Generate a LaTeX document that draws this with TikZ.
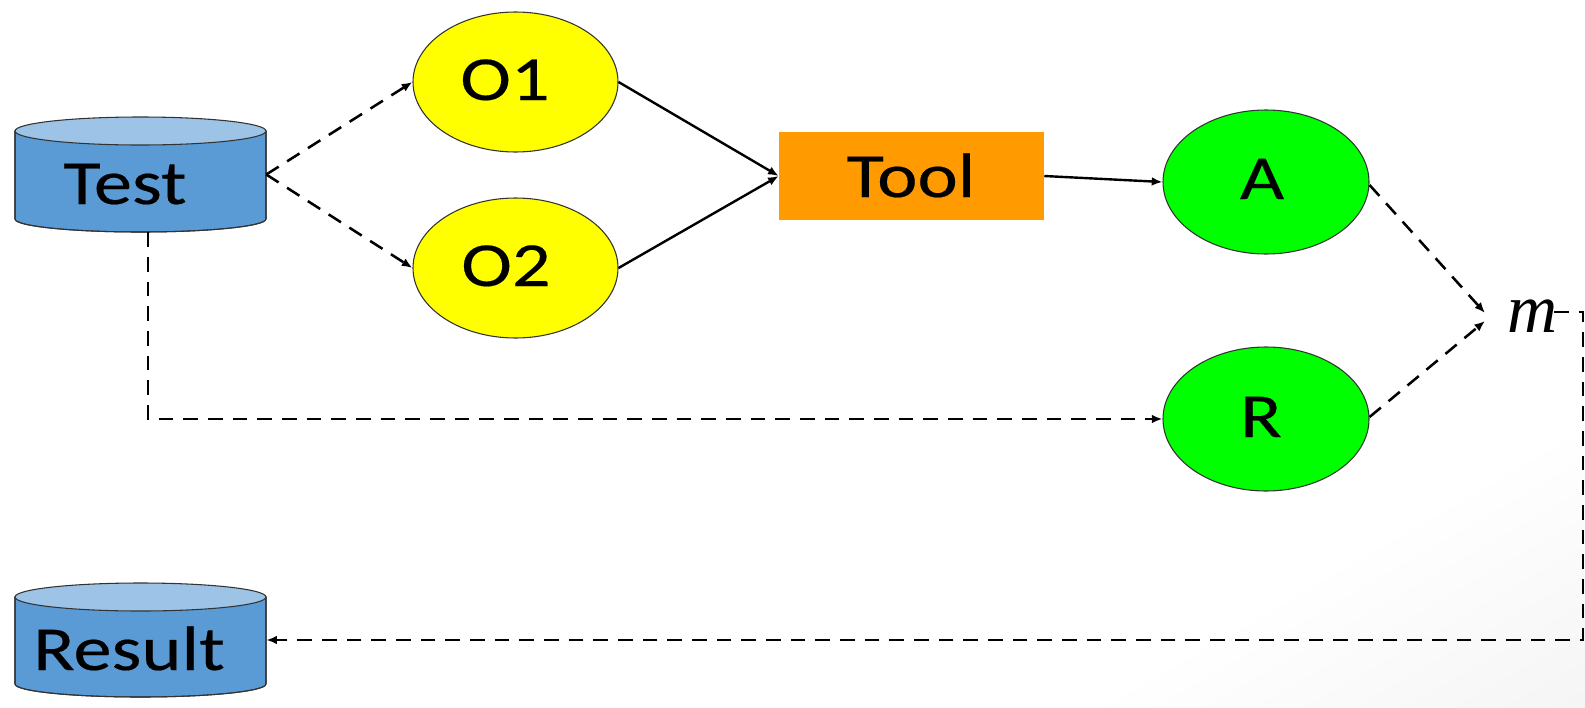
\documentclass[tikz,border=0pt]{standalone}
\usepackage{fontspec}
\setmainfont[FakeStretch=1.22,FakeBold=0.3]{Carlito}
\newfontfamily\mfont{Liberation Serif}
\usetikzlibrary{arrows.meta,calc,shapes.geometric}
\definecolor{cylbody}{HTML}{5B9BD5}
\definecolor{cyltop}{HTML}{9DC3E6}
\definecolor{toolc}{HTML}{FF9A00}
\definecolor{ylw}{HTML}{FFFF00}
\definecolor{grn}{HTML}{00FF00}
\pgfdeclarehorizontalshading{bgsh}{100bp}{color(0bp)=(white); color(72bp)=(white); color(100bp)=(black!9)}
\tikzset{
  lbl/.style={font=\fontsize{47}{50}\selectfont, inner sep=0pt, anchor=base},
  oval/.style={ellipse, draw=black!80, line width=0.8pt, inner sep=0pt},
  yoval/.style={oval, fill=ylw, minimum width=153.75pt, minimum height=105pt},
  goval/.style={oval, fill=grn, minimum width=154.5pt, minimum height=108pt},
  toolbox/.style={rectangle, fill=toolc, minimum width=198.75pt, minimum height=66pt, inner sep=0pt},
  cylbox/.style={rectangle, minimum width=188.25pt, minimum height=86.25pt, inner sep=0pt},
  cylside/.style={fill=cylbody, draw=black!80, line width=0.8pt},
  cyltopst/.style={fill=cyltop, draw=black!80, line width=0.8pt},
  solidarrow/.style={line width=1.8pt, -{Latex[length=8pt,width=6.5pt]}},
  dasharrow/.style={line width=1.9pt, dash pattern=on 11pt off 7.5pt, -{Latex[length=8pt,width=6.5pt]}},
  mstyle/.style={inner sep=0pt, anchor=base, font=\fontsize{52}{52}\selectfont\mfont\itshape}
}
\begin{document}
\begin{tikzpicture}[x=0.75pt,y=-0.75pt]
\useasboundingbox (0,0) rectangle (1585,707);
\shade[shading=bgsh, shading angle=-60] (0,0) rectangle (1585,707);

% cylinders
\fill[cylside] (15,131) -- (15,219) arc[start angle=180, end angle=360, x radius=94.125pt, y radius=9.75pt] -- (266,131) -- cycle;
\draw[cylside, fill=none] (15,131) -- (15,219) arc[start angle=180, end angle=360, x radius=94.125pt, y radius=9.75pt] -- (266,131);
\draw[cyltopst] (140.5,131) ellipse[x radius=94.125pt, y radius=10.5pt];
\node[cylbox] (test) at (140.5,174.5) {};
\node[lbl] (testtxt) at (125,204) {Test};

\fill[cylside] (15,597) -- (15,684) arc[start angle=180, end angle=360, x radius=94.125pt, y radius=9.75pt] -- (266,597) -- cycle;
\draw[cylside, fill=none] (15,597) -- (15,684) arc[start angle=180, end angle=360, x radius=94.125pt, y radius=9.75pt] -- (266,597);
\draw[cyltopst] (140.5,597) ellipse[x radius=94.125pt, y radius=10.5pt];
\node[cylbox] (result) at (140.5,640) {};
\node[lbl] (resulttxt) at (129,670) {Result};

% nodes
\node[yoval] (o1) at (515.5,82) {};
\node[lbl] (o1txt) at (505,100) {O1};
\node[yoval] (o2) at (515.5,268) {};
\node[lbl] (o2txt) at (506,286) {O2};
\node[toolbox] (tool) at (911.5,176) {};
\node[lbl] (tooltxt) at (911,197) {Tool};
\node[goval] (a) at (1266,182) {};
\node[lbl] (atxt) at (1262,199) {A};
\node[goval] (r) at (1266,419) {};
\node[lbl] (rtxt) at (1261,437) {R};
\node[mstyle] (m) at (1533,332) {m};

% connectors
\draw[dasharrow] (test.east) -- (o1.west);
\draw[dasharrow] (test.east) -- (o2.west);
\draw[solidarrow] (o1.east) -- (tool.west);
\draw[solidarrow] (o2.east) -- (tool.west);
\draw[solidarrow] (tool.east) -- (a.west);
\draw[dasharrow] ([xshift=5.6pt]test.south) |- (r.west);
\coordinate (min1) at (1485,313);
\coordinate (min2) at (1485,321);
\draw[dasharrow] ($(a.east)+(0,3)$) -- (min1);
\draw[dasharrow] ($(r.east)+(0,-2)$) -- (min2);
\coordinate (mstart) at (1554,312);
\coordinate (mc) at (1583,312);
\draw[dasharrow] (mstart) -- (mc) |- (result.east);
\end{tikzpicture}
\end{document}
